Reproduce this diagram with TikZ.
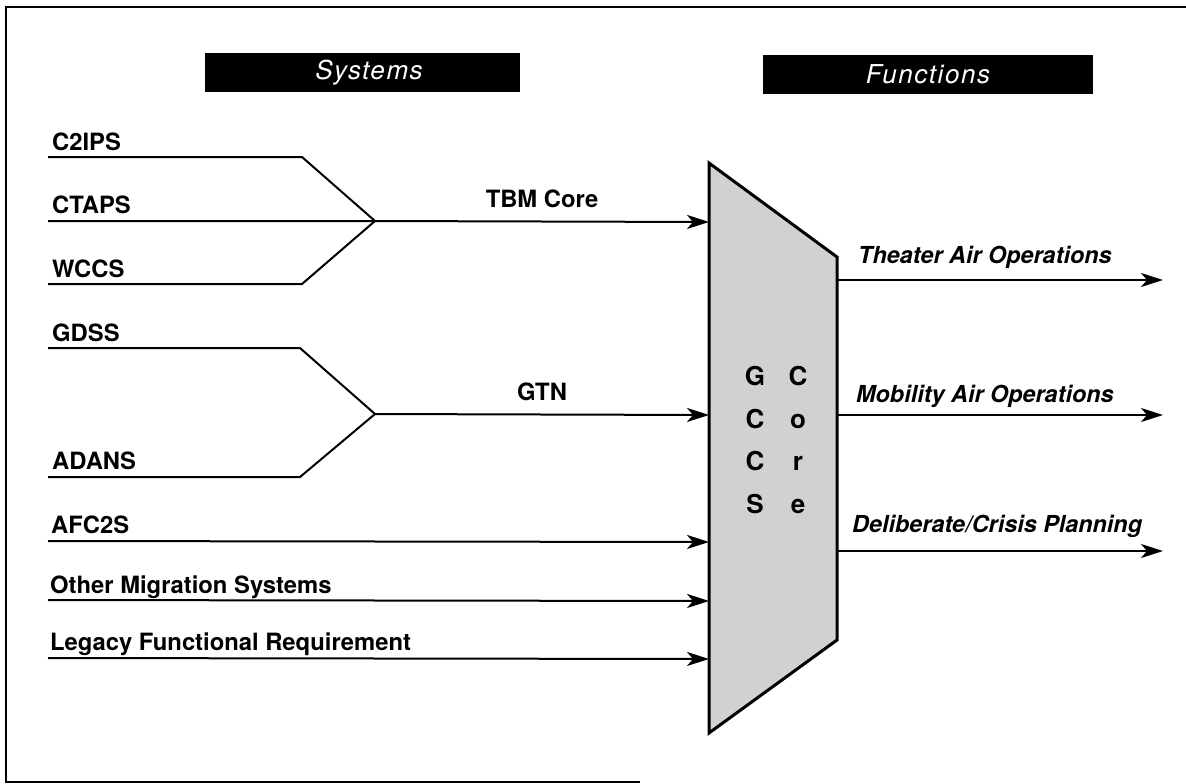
\documentclass[tikz,border=0pt]{standalone}
\usepackage{fontspec}
\setmainfont{TeX Gyre Heros}
\usetikzlibrary{arrows.meta}
\begin{document}
\begin{tikzpicture}[x=1pt,y=-1pt,
  lbl/.style={font=\fontsize{23.8}{26}\selectfont\bfseries, anchor=base west, inner sep=0pt},
  mlbl/.style={font=\fontsize{23.8}{26}\selectfont\bfseries, anchor=base, inner sep=0pt},
  flbl/.style={font=\fontsize{23.4}{26}\selectfont\bfseries\itshape, anchor=base west, inner sep=0pt},
  hdr/.style={fill=black, text=white, font=\fontsize{26}{28}\selectfont\itshape\addfontfeature{LetterSpace=6}, minimum height=39pt, inner sep=0pt},
  wire/.style={line width=2pt},
  arr/.style={wire, -{Stealth[length=22pt,width=14pt,inset=6pt]}},
  letter/.style={font=\fontsize{26}{28}\selectfont\bfseries, anchor=base, inner sep=0pt}]
\useasboundingbox (0,0) rectangle (1186,784);
% frame
\draw[line width=1.5pt] (1186,7) -- (6,7) -- (6,782) -- (640,782);
% headers
\node[hdr, minimum width=315pt] (sys) at (362,72.5) {\hspace{14pt}Systems};
\node[hdr, minimum width=330pt] (fun) at (928,74.5) {Functions};
% GCCS core trapezoid
\draw[line width=3pt, fill=black!18, line join=miter] (709,163) -- (837,257) -- (837,640) -- (709,733) -- cycle;
\coordinate (inTBM) at (709,222);
\coordinate (inGTN) at (709,415);
\coordinate (inAFC) at (709,542);
\coordinate (inOMS) at (709,601);
\coordinate (inLFR) at (709,659);
\coordinate (outTAO) at (837,280);
\coordinate (outMAO) at (837,415);
\coordinate (outDCP) at (837,551);
\coordinate (endTAO) at (1163,280);
\coordinate (endMAO) at (1163,415);
\coordinate (endDCP) at (1163,551);
\node[letter] (g1) at (755,385) {G};
\node[letter] (g2) at (755,428) {C};
\node[letter] (g3) at (755,470) {C};
\node[letter] (g4) at (755,513) {S};
\node[letter] (c1) at (798,385) {C};
\node[letter] (c2) at (798,428) {o};
\node[letter] (c3) at (798,470) {r};
\node[letter] (c4) at (798,513) {e};
% system labels
\node[lbl] (c2ips) at (52,150) {C2IPS};
\node[lbl] (ctaps) at (52,213) {CTAPS};
\node[lbl] (wccs) at (52,277) {WCCS};
\node[lbl] (gdss) at (52,341) {GDSS};
\node[lbl] (adans) at (52,469) {ADANS};
\node[lbl] (afc2s) at (51,533) {AFC2S};
\node[lbl] (oms) at (50,593) {Other Migration Systems};
\node[lbl] (lfr) at (50,650) {Legacy Functional Requirement};
% line starts and merge points
\coordinate (sC2) at (48,157);
\coordinate (sCT) at (48,221);
\coordinate (sWC) at (48,284);
\coordinate (sGD) at (48,348);
\coordinate (sAD) at (48,477);
\coordinate (sAF) at (48,541);
\coordinate (sOM) at (48,600);
\coordinate (sLF) at (48,658);
\coordinate (mTBM) at (375,221);
\coordinate (mGTN) at (375,414);
% TBM core group
\draw[wire, line join=miter] (sC2) -- (302,157) -- (mTBM);
\draw[wire, line join=miter] (sWC) -- (302,284) -- (mTBM);
\draw[arr] (sCT) -- (mTBM) -- (inTBM);
\node[mlbl] (tbm) at (542,207) {TBM Core};
% GTN group
\draw[wire, line join=miter] (sGD) -- (300,348) -- (mGTN);
\draw[wire, line join=miter] (sAD) -- (300,477) -- (mGTN);
\draw[arr] (mGTN) -- (inGTN);
\node[mlbl] (gtn) at (542,400) {GTN};
% direct inputs
\draw[arr] (sAF) -- (inAFC);
\draw[arr] (sOM) -- (inOMS);
\draw[arr] (sLF) -- (inLFR);
% outputs
\draw[arr] (outTAO) -- (endTAO);
\draw[arr] (outMAO) -- (endMAO);
\draw[arr] (outDCP) -- (endDCP);
\node[flbl] (tao) at (858,263) {Theater Air Operations};
\node[flbl] (mao) at (856,402) {Mobility Air Operations};
\node[flbl] (dcp) at (852,532) {Deliberate/Crisis Planning};
\end{tikzpicture}
\end{document}
